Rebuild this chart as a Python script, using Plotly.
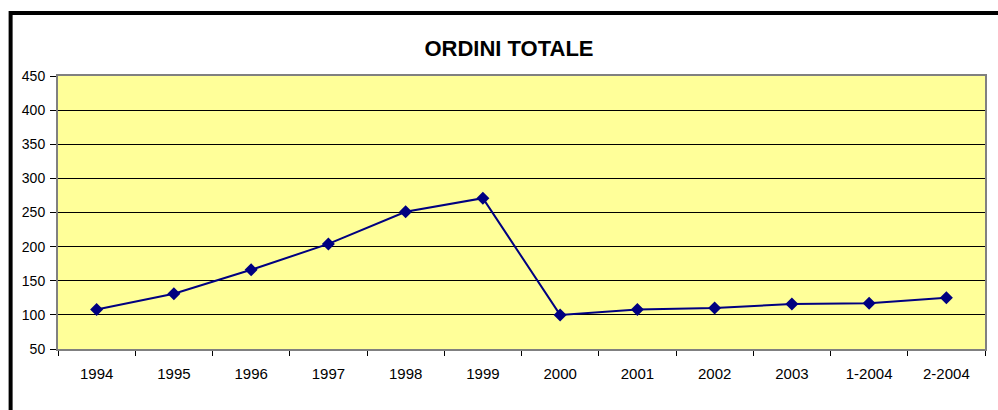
import plotly.graph_objects as go

categories = ["1994", "1995", "1996", "1997", "1998", "1999", "2000", "2001", "2002", "2003", "1-2004", "2-2004"]
values = [108, 131, 166, 204, 251, 271, 100, 108, 110, 116, 117, 125]
y_ticks = [50, 100, 150, 200, 250, 300, 350, 400, 450]

W, H = 998, 410
ml, mr, mt, mb = 57.5, 11.3, 76, 410 - 349
pw, ph = W - ml - mr, H - mt - mb

def px_x(x):
    return (x - ml) / pw

def px_y(y):
    return (H - mb - y) / ph

fig = go.Figure()
fig.add_trace(go.Scatter(
    x=categories, y=values, mode="lines+markers",
    line=dict(color="#000080", width=2),
    marker=dict(symbol="diamond", size=10, color="#000080"),
    showlegend=False, cliponaxis=False,
))

fig.update_layout(
    width=W, height=H,
    margin=dict(l=ml, r=mr, t=mt, b=mb, pad=0),
    paper_bgcolor="white",
    plot_bgcolor="#FFFF99",
    font=dict(family="Arial, Liberation Sans, sans-serif", size=14, color="black"),
    title=dict(text="<b>ORDINI TOTALE</b>", x=509 / W, xanchor="center",
               y=1 - 48 / H, yanchor="middle",
               font=dict(size=22, color="black", family="Arial, Liberation Sans, sans-serif")),
    xaxis=dict(
        type="category", range=[-0.5, len(categories) - 0.5],
        tickson="boundaries", ticks="outside", ticklen=5,
        tickcolor="black", tickwidth=1, tickfont=dict(size=15),
        ticklabelstandoff=10,
        showline=True, linecolor="#808080", linewidth=2, mirror=True,
        showgrid=False, zeroline=False,
    ),
    yaxis=dict(
        range=[50, 450], tickvals=y_ticks, ticks="outside", ticklen=6,
        tickcolor="black", tickwidth=1, tickfont=dict(size=14),
        ticklabelstandoff=2,
        showline=True, linecolor="#808080", linewidth=2, mirror=True,
        showgrid=True, gridcolor="black", gridwidth=1, zeroline=False,
    ),
    shapes=[dict(
        type="rect", xref="paper", yref="paper",
        x0=px_x(10), x1=px_x(1010), y0=px_y(420), y1=px_y(13),
        line=dict(color="black", width=4), fillcolor="rgba(0,0,0,0)", layer="above",
    )],
)

fig.write_html(
    "out.html",
    config={"displayModeBar": False},
    post_script="document.body.style.margin='0';document.body.style.overflow='hidden';",
)
